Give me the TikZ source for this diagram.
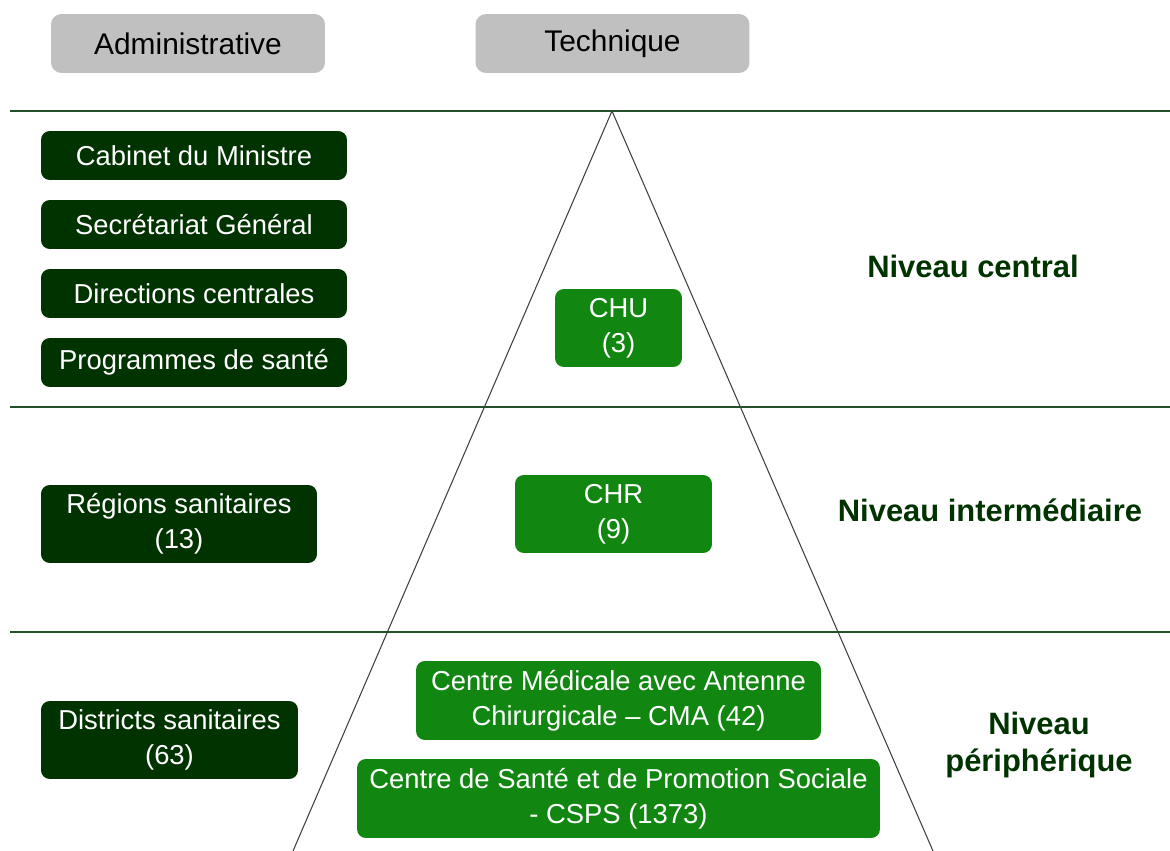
\documentclass[tikz,border=0pt]{standalone}
\usepackage{fontspec}
\setmainfont{Liberation Sans}
\definecolor{grisentete}{HTML}{C0C0C0}
\definecolor{vertfonce}{HTML}{003300}
\definecolor{vertclair}{HTML}{118711}
\definecolor{vertligne}{HTML}{24512A}
\tikzset{
  entete/.style={fill=grisentete, rounded corners=6pt, inner sep=0pt,
    minimum width=5.48cm, minimum height=1.18cm, font=\fontsize{17}{20}\selectfont},
  admin/.style={fill=vertfonce, text=white, rounded corners=5pt, inner sep=0pt,
    align=center, font=\fontsize{15.6}{20}\selectfont},
  tech/.style={fill=vertclair, text=white, rounded corners=5pt, inner sep=0pt,
    align=center, font=\fontsize{15.6}{20}\selectfont},
  niveau/.style={text=vertfonce, align=center, font=\bfseries\fontsize{17.6}{20.5}\selectfont},
  separation/.style={vertligne, line width=0.6pt},
  pyramide/.style={black!75, line width=0.6pt}
}
\begin{document}
\begin{tikzpicture}[x=0.02cm,y=-0.02cm]
\useasboundingbox (0,0) rectangle (1170,851);
%separations%
\draw [separation] (10,111) -- (1170,111);
\draw [separation] (10,407) -- (1170,407);
\draw [separation] (10,632) -- (1170,632);
%pyramide%
\coordinate (sommet) at (612,111);
\coordinate (basegauche) at (293,851);
\coordinate (basedroite) at (933,851);
\draw [pyramide] (basegauche) -- (sommet) -- (basedroite);
%entetes%
\node [entete] (administrative) at (188,43.5) {Administrative};
\node [entete] (technique) at (612.5,43.5) {Technique};
%administratif%
\node [admin, minimum width=6.12cm, minimum height=0.98cm] (cabinet) at (194,155.5) {Cabinet du Ministre};
\node [admin, minimum width=6.12cm, minimum height=0.98cm] (secretariat) at (194,224.5) {Secrétariat Général};
\node [admin, minimum width=6.12cm, minimum height=0.98cm] (directions) at (194,293.5) {Directions centrales};
\node [admin, minimum width=6.12cm, minimum height=0.98cm] (programmes) at (194,362.5) {Programmes de santé};
\node [admin, minimum width=5.52cm, minimum height=1.56cm] (regions) at (179,524) {Régions sanitaires\\(13)};
\node [admin, minimum width=5.14cm, minimum height=1.56cm] (districts) at (169.5,740) {Districts sanitaires\\(63)};
%technique%
\node [tech, minimum width=2.54cm, minimum height=1.56cm] (chu) at (618.5,328) {CHU\\(3)};
\node [tech, minimum width=3.94cm, minimum height=1.56cm] (chr) at (613.5,514) {CHR\\(9)};
\node [tech, minimum width=8.1cm, minimum height=1.58cm] (cma) at (618.5,700.5) {Centre Médicale avec Antenne\\Chirurgicale – CMA (42)};
\node [tech, minimum width=10.46cm, minimum height=1.58cm] (csps) at (618.5,798.5) {Centre de Santé et de Promotion Sociale\\- CSPS (1373)};
%niveaux%
\node [niveau] (central) at (973,266) {Niveau central};
\node [niveau] (intermediaire) at (990,510) {Niveau intermédiaire};
\node [niveau] (peripherique) at (1039,745) {Niveau\\périphérique};
\end{tikzpicture}
\end{document}
